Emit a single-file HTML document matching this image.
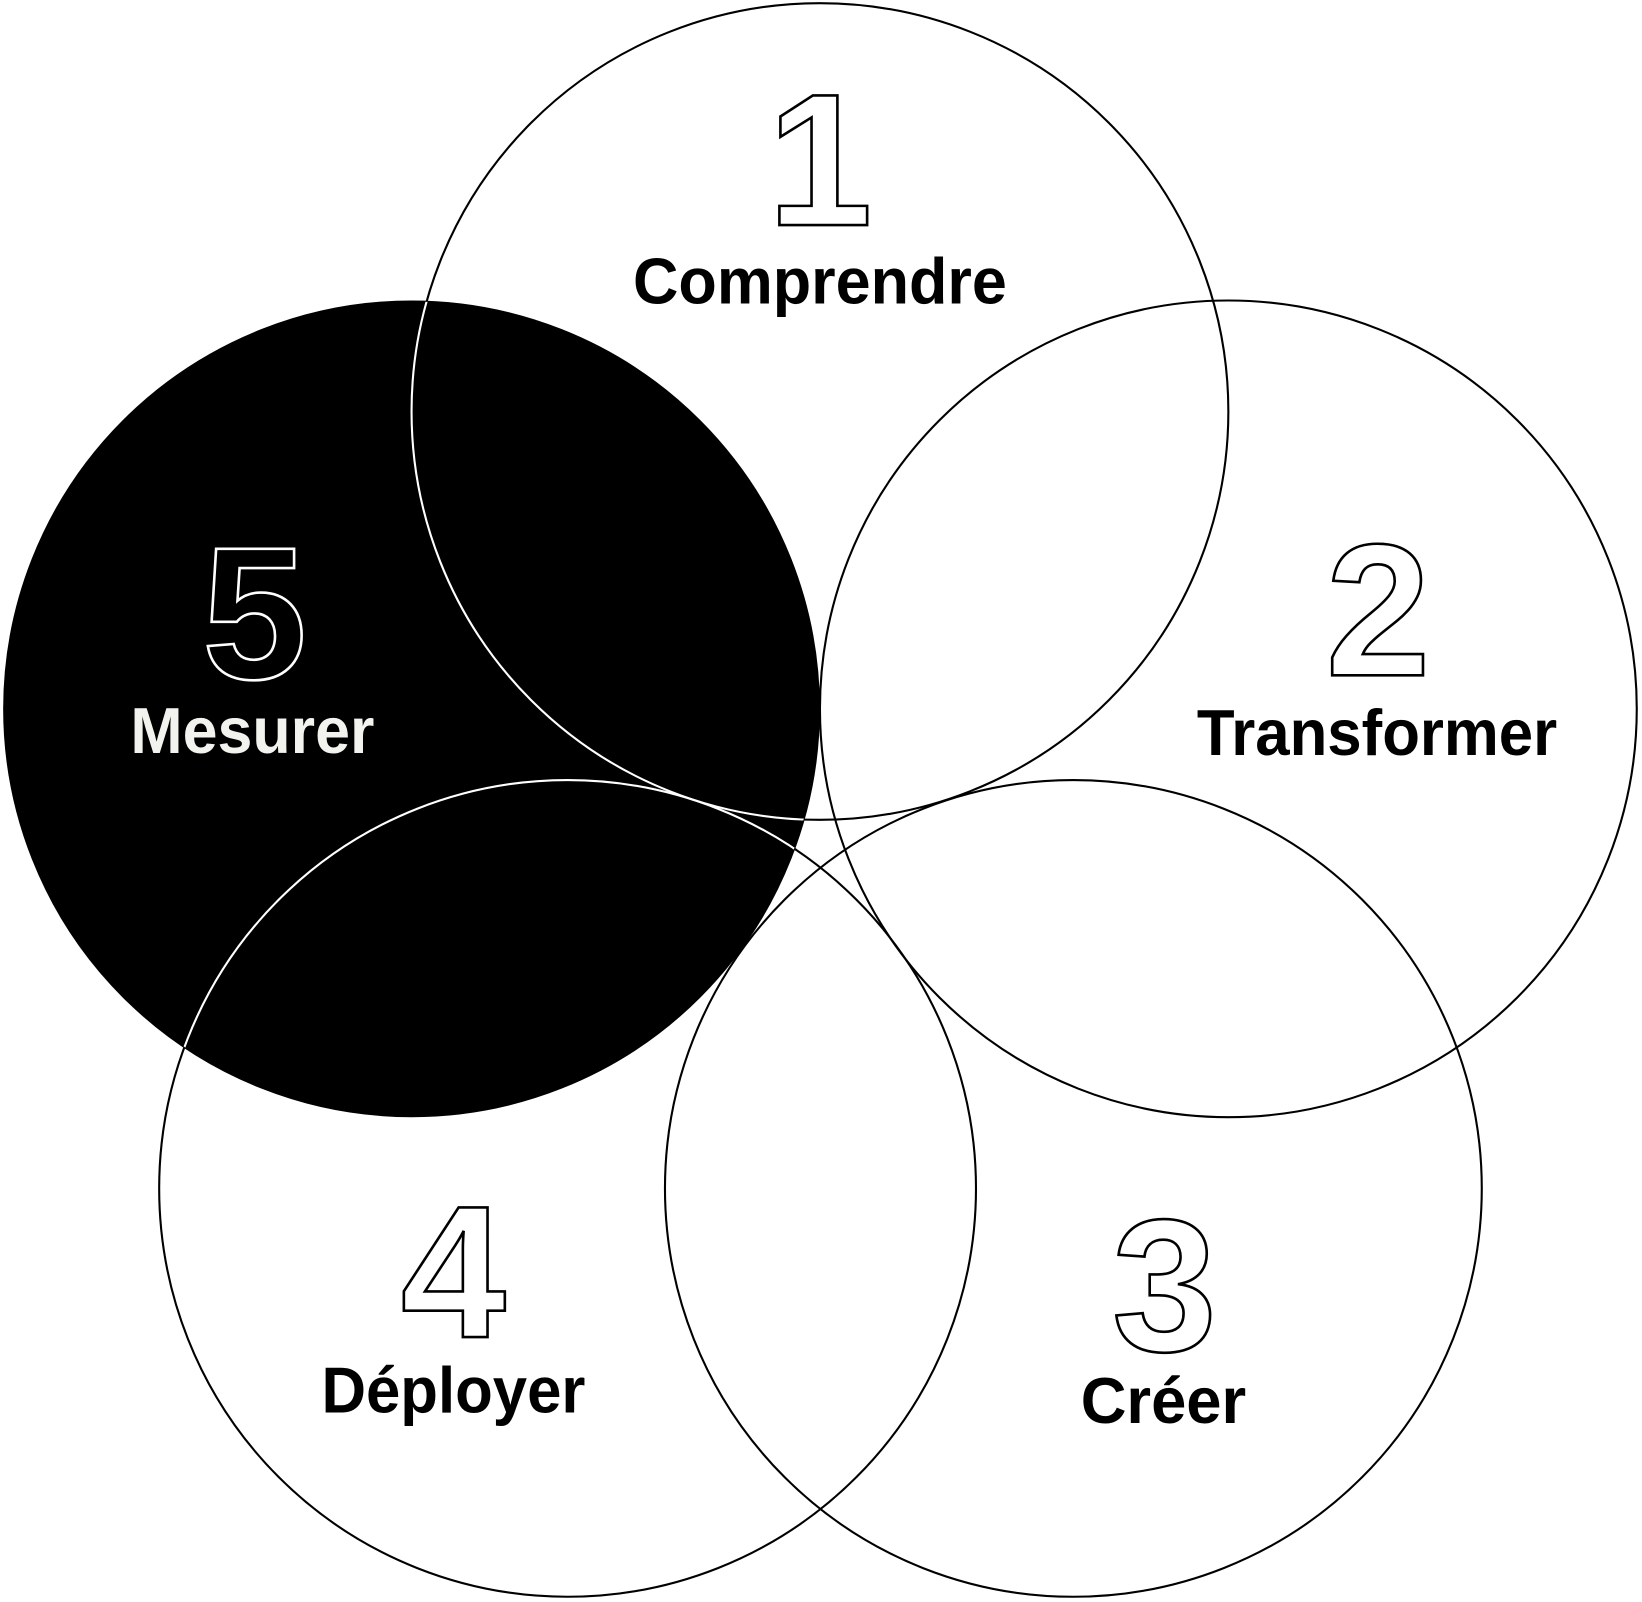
<!DOCTYPE html>
<html><head><meta charset="utf-8"><style>
html,body{margin:0;padding:0;background:#fff;}
svg{display:block;}
text{font-family:"Liberation Sans",Arial,sans-serif;}
</style></head><body>
<svg width="1642" height="1602" viewBox="0 0 1568 1530" preserveAspectRatio="none" xmlns="http://www.w3.org/2000/svg">
<defs>
<clipPath id="c5"><circle cx="393" cy="677" r="389"/></clipPath>
</defs>
<g fill="none" stroke="#000" stroke-width="2">
<circle cx="783" cy="393" r="390"/>
<circle cx="1173" cy="677" r="390"/>
<circle cx="1025" cy="1135" r="390"/>
<circle cx="542" cy="1135" r="390"/>
</g>
<circle cx="393" cy="677" r="389" fill="#000" stroke="#000" stroke-width="2"/>
<g fill="none" stroke="#fff" stroke-width="2" clip-path="url(#c5)">
<circle cx="783" cy="393" r="390"/>
<circle cx="542" cy="1135" r="390"/>
</g>
<g font-weight="bold" font-size="180" text-anchor="middle" fill="none" stroke-width="2.5">
<text x="783" y="215" stroke="#000">1</text>
<text x="1316" y="645" stroke="#000">2</text>
<text x="1112" y="1290" stroke="#000">3</text>
<text x="433" y="1277" stroke="#000">4</text>
<text x="243" y="648" stroke="#fff">5</text>
</g>
<g font-weight="bold" font-size="62" text-anchor="middle" lengthAdjust="spacingAndGlyphs">
<text x="783" y="290" fill="#000" textLength="357" lengthAdjust="spacingAndGlyphs">Comprendre</text>
<text x="1315" y="721" fill="#000" textLength="344" lengthAdjust="spacingAndGlyphs">Transformer</text>
<text x="1111" y="1359" fill="#000" textLength="158" lengthAdjust="spacingAndGlyphs">Créer</text>
<text x="433" y="1349" fill="#000" textLength="252" lengthAdjust="spacingAndGlyphs">Déployer</text>
<text x="241" y="719" fill="#f2f2ee" textLength="233" lengthAdjust="spacingAndGlyphs">Mesurer</text>
</g>
</svg>
</body></html>
